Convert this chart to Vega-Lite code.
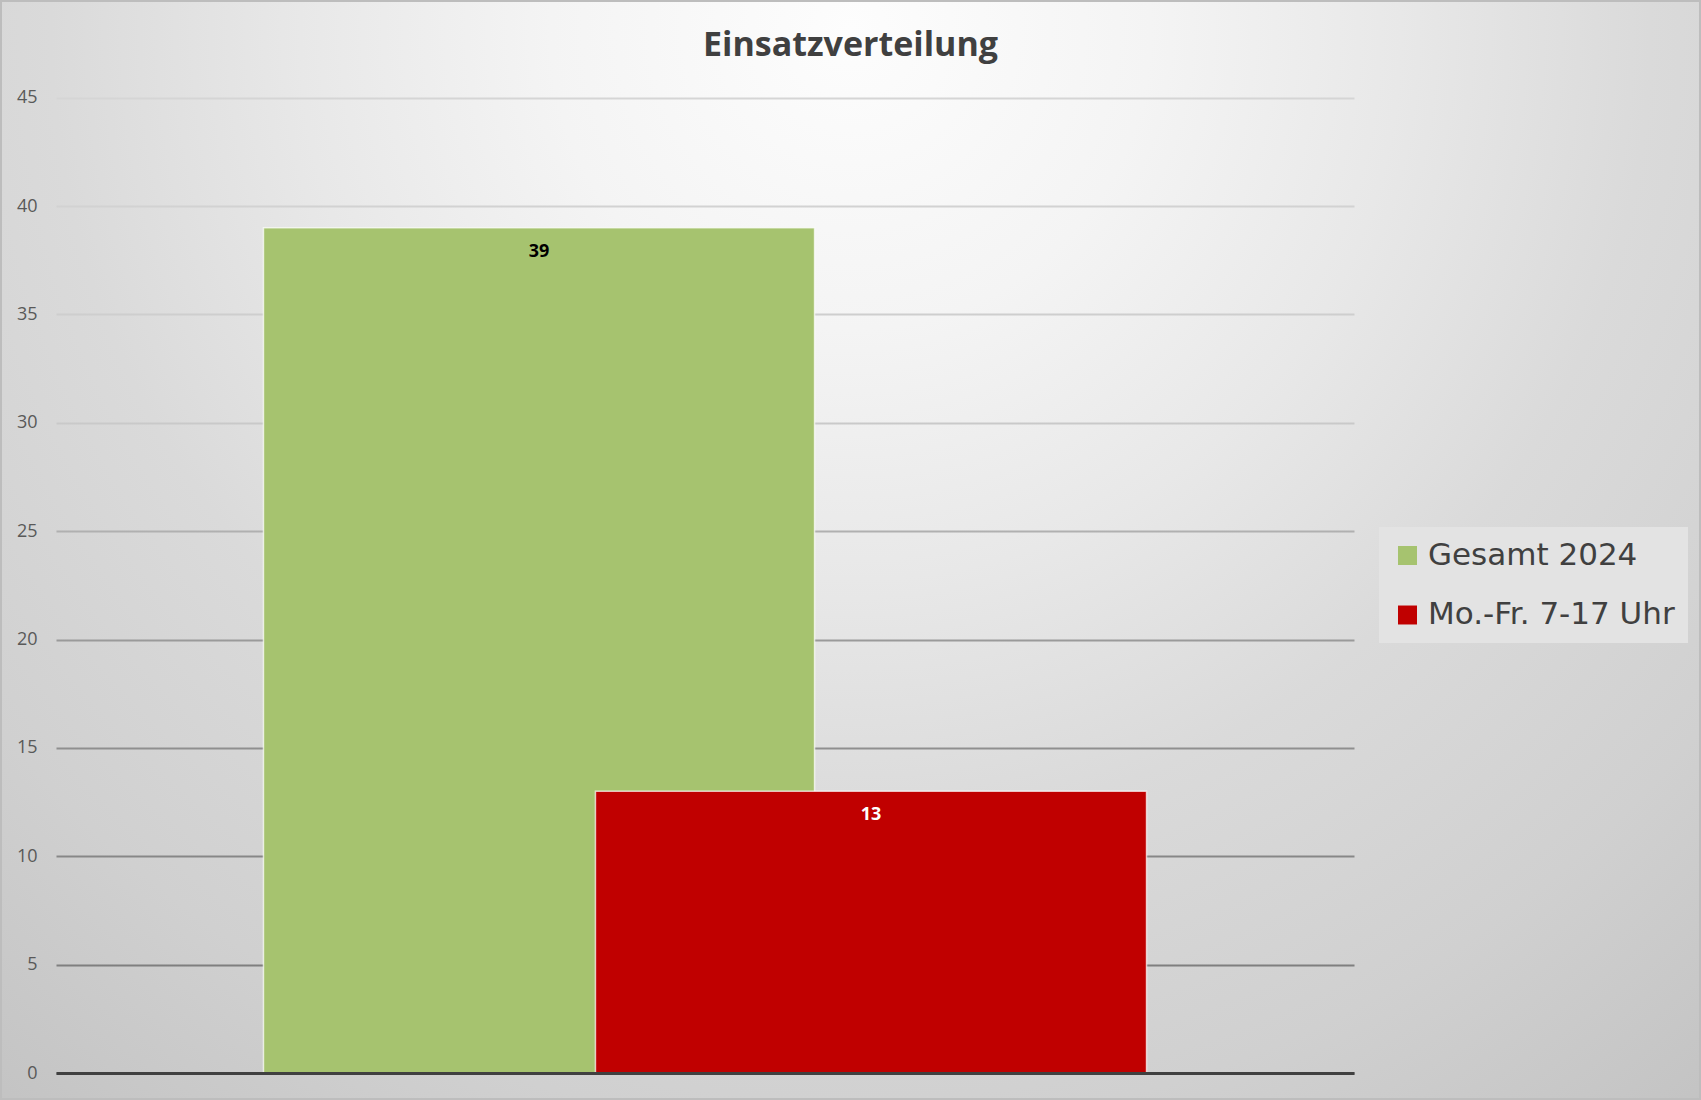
{
  "$schema": "https://vega.github.io/schema/vega-lite/v6.json",
  "width": 1701,
  "height": 1100,
  "autosize": {"type": "none"},
  "padding": 0,
  "background": "#d6d6d6",
  "view": {
    "fill": {"expr": "{gradient: 'radial', x1: 0.5, y1: 0.194, r1: 0, x2: 0.5, y2: 0.194, r2: 0.823, stops: [{offset: 0, color: '#fdfdfd'}, {offset: 0.214, color: '#f4f4f4'}, {offset: 0.393, color: '#e8e8e8'}, {offset: 0.571, color: '#dadada'}, {offset: 0.786, color: '#d0d0d0'}, {offset: 1, color: '#c2c2c2'}]}"},
    "stroke": "#bdbdbd",
    "strokeWidth": 4
  },
  "title": {
    "text": "Einsatzverteilung",
    "anchor": "middle",
    "frame": "group",
    "offset": -63,
    "font": "Open Sans",
    "fontSize": 34,
    "fontWeight": "bold",
    "color": "#404040"
  },
  "data": {
    "values": [
      {"series": "Gesamt 2024", "value": 39},
      {"series": "Mo.-Fr. 7-17 Uhr", "value": 13}
    ]
  },
  "encoding": {
    "x": {
      "field": "series",
      "type": "nominal",
      "sort": null,
      "scale": {"range": [56, 1354], "paddingInner": 0, "paddingOuter": 0.955},
      "axis": {
        "labels": false,
        "ticks": false,
        "title": null,
        "grid": false,
        "domain": true,
        "domainColor": "#404040",
        "domainWidth": 3,
        "offset": -27,
        "zindex": 1
      }
    },
    "y": {
      "field": "value",
      "type": "quantitative",
      "scale": {"domain": [0, 45], "range": [1073, 97.7], "nice": false},
      "axis": {
        "values": [0, 5, 10, 15, 20, 25, 30, 35, 40, 45],
        "title": null,
        "ticks": false,
        "domain": false,
        "offset": -56,
        "labelPadding": 19,
        "labelFont": "Open Sans",
        "labelFontSize": 18,
        "labelColor": "#595959",
        "grid": true,
        "gridWidth": 2,
        "gridColor": {
          "condition": [
            {"test": "datum.value <= 5", "value": "#7f7f7f"},
            {"test": "datum.value <= 10", "value": "#878787"},
            {"test": "datum.value <= 15", "value": "#8f8f8f"},
            {"test": "datum.value <= 20", "value": "#9a9a9a"},
            {"test": "datum.value <= 25", "value": "#b0b0b0"},
            {"test": "datum.value <= 30", "value": "#c9c9c9"},
            {"test": "datum.value <= 35", "value": "#cecece"},
            {"test": "datum.value <= 40", "value": "#d2d2d2"}
          ],
          "value": "#d5d5d5"
        }
      }
    }
  },
  "layer": [
    {
      "mark": {
        "type": "bar",
        "width": {"band": 1.66},
        "stroke": "#ffffff",
        "strokeOpacity": 0.7,
        "strokeWidth": 1.5
      },
      "encoding": {
        "color": {
          "field": "series",
          "type": "nominal",
          "scale": {"domain": ["Gesamt 2024", "Mo.-Fr. 7-17 Uhr"], "range": ["#a6c36f", "#c00000"]},
          "legend": {
            "orient": "none",
            "legendX": 1379,
            "legendY": 527,
            "title": null,
            "symbolType": "square",
            "symbolSize": 360,
            "symbolStrokeWidth": 0,
            "labelFont": "DejaVu Sans",
            "labelFontSize": 31,
            "labelColor": "#404040",
            "labelOffset": 5,
            "labelLimit": 500,
            "rowPadding": 27.5,
            "padding": 13,
            "fillColor": "#e3e3e3"
          }
        }
      }
    },
    {
      "mark": {
        "type": "text",
        "baseline": "middle",
        "dy": 24,
        "font": "Open Sans",
        "fontSize": 18,
        "fontWeight": "bold"
      },
      "encoding": {
        "text": {"field": "value", "type": "quantitative"},
        "color": {
          "condition": {"test": "datum.series === 'Gesamt 2024'", "value": "#000000"},
          "value": "#ffffff"
        }
      }
    }
  ]
}
